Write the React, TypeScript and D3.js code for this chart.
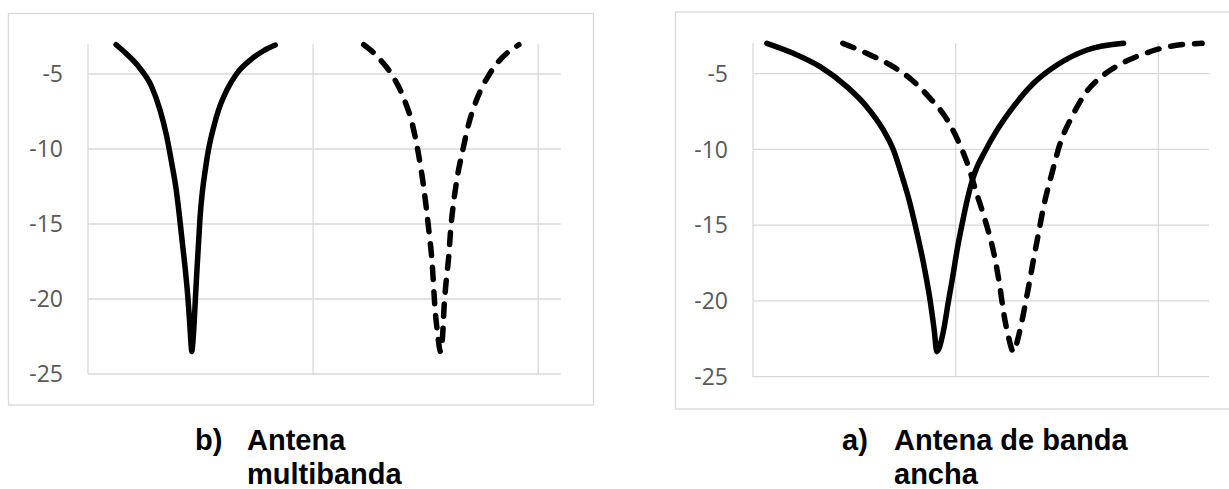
import React from "react";
import * as d3 from "d3";

// ---- data ----
const yTicks = [-5, -10, -15, -20, -25];
const xGridLeft = [0, 1, 2];
const xGridRight = [0, 1, 2];

// b) Antena multibanda
const leftSolidX = [0.125, 0.168, 0.225, 0.283, 0.32, 0.35, 0.372, 0.392, 0.4065, 0.4195, 0.4325, 0.4435, 0.452, 0.4575, 0.461, 0.4655, 0.4715, 0.4775, 0.484, 0.491, 0.498, 0.509, 0.521, 0.535, 0.555, 0.58, 0.617, 0.662, 0.721, 0.78, 0.832];
const leftSolidY = [-3.05, -3.62, -4.51, -5.85, -7.4, -9.18, -10.95, -12.73, -14.51, -16.29, -18.07, -19.85, -21.62, -22.95, -23.5, -22.95, -21.62, -19.85, -18.07, -16.29, -14.51, -12.73, -11.4, -10.07, -8.73, -7.4, -6.07, -4.95, -4.07, -3.45, -3.07];

const leftDashX = [1.225, 1.27, 1.307, 1.351, 1.403, 1.44, 1.465, 1.492, 1.514, 1.529, 1.541, 1.553, 1.566, 1.576, 1.582, 1.592, 1.603, 1.611, 1.624, 1.641, 1.665, 1.692, 1.729, 1.781, 1.822, 1.862, 1.914];
const leftDashY = [-3.05, -3.6, -4.2, -5.07, -6.62, -8.29, -10.07, -12.62, -15.4, -17.62, -20.5, -22.3, -23.5, -22.3, -20.5, -18.7, -17.1, -15.4, -13.6, -11.85, -10.07, -8.29, -6.62, -5.07, -4.2, -3.6, -3.05];

// a) Antena de banda ancha
const rightSolidX = [0.068, 0.199, 0.331, 0.463, 0.561, 0.643, 0.691, 0.741, 0.77, 0.8, 0.841, 0.874, 0.894, 0.907, 0.938, 0.965, 0.983, 1.01, 1.031, 1.057, 1.085, 1.151, 1.195, 1.285, 1.384, 1.5, 1.648, 1.829];
const rightSolidY = [-3, -3.66, -4.54, -5.86, -7.18, -8.72, -9.97, -12.01, -13.33, -14.98, -17.5, -19.97, -21.9, -23.35, -22.1, -19.97, -18.6, -16.41, -14.98, -13.33, -11.9, -9.97, -8.93, -7.18, -5.64, -4.43, -3.44, -3];

const rightDashX = [0.443, 0.561, 0.677, 0.784, 0.874, 0.953, 1.014, 1.063, 1.103, 1.145, 1.195, 1.218, 1.237, 1.26, 1.285, 1.31, 1.335, 1.36, 1.384, 1.409, 1.434, 1.475, 1.516, 1.574, 1.64, 1.73, 1.821, 1.936, 2.051, 2.216];
const rightDashY = [-3, -3.66, -4.43, -5.42, -6.63, -7.94, -9.49, -11.13, -12.89, -14.65, -17.28, -19.05, -20.8, -22.34, -23.35, -22.34, -20.8, -19.05, -17.28, -15.52, -13.77, -11.57, -9.59, -7.84, -6.3, -5.09, -4.32, -3.66, -3.22, -3];

const leftTitle = ["b)", "Antena", "multibanda"];
const rightTitle = ["a)", "Antena de banda", "ancha"];

type Series = { xs: number[]; ys: number[]; dashed: boolean };

type PanelProps = {
  box: { x0: number; y0: number; x1: number; y1: number };
  plot: { left: number; right: number; top: number; bottom: number };
  xMax: number;
  xGrid: number[];
  series: Series[];
  title: string[];
  titleX: number;
};

const GRID = "#d9d9d9";

function Panel({ box, plot, xMax, xGrid, series, title, titleX }: PanelProps) {
  const x = d3.scaleLinear().domain([0, xMax]).range([plot.left, plot.right]);
  const y = d3.scaleLinear().domain([-3, -25]).range([plot.top, plot.bottom]);
  const line = d3
    .line<[number, number]>()
    .x((d) => x(d[0]))
    .y((d) => y(d[1]))
    .curve(d3.curveMonotoneX);
  return (
    <g>
      <rect
        x={box.x0}
        y={box.y0}
        width={box.x1 - box.x0}
        height={box.y1 - box.y0}
        fill="#fff"
        stroke={GRID}
        strokeWidth={1.3}
      />
      {yTicks.map((t) => (
        <line key={"h" + t} x1={plot.left} x2={plot.right} y1={y(t)} y2={y(t)} stroke={GRID} strokeWidth={1.3} />
      ))}
      {xGrid.map((t) => (
        <line key={"v" + t} x1={x(t)} x2={x(t)} y1={y(-3)} y2={y(-25)} stroke={GRID} strokeWidth={1.3} />
      ))}
      {yTicks.map((t) => (
        <text
          key={"l" + t}
          x={plot.left - 25}
          y={y(t)}
          dy="0.36em"
          textAnchor="end"
          fontFamily="'Open Sans', sans-serif"
          fontSize={23}
          fill="#595959"
        >
          {t}
        </text>
      ))}
      {series.map((s, i) => (
        <path
          key={i}
          d={line(s.xs.map((v, j) => [v, s.ys[j]] as [number, number])) || ""}
          fill="none"
          stroke="#000"
          strokeWidth={5.5}
          strokeLinecap="round"
          strokeLinejoin="round"
          strokeDasharray={s.dashed ? "12 12" : undefined}
        />
      ))}
      <g fontFamily="'Liberation Sans', Arial, sans-serif" fontWeight="bold" fontSize={29} fill="#000">
        <text x={titleX} y={450}>{title[0]}</text>
        <text x={titleX + 52} y={450}>{title[1]}</text>
        <text x={titleX + 52} y={484}>{title[2]}</text>
      </g>
    </g>
  );
}

export default function App() {
  return (
    <svg
      width={1229}
      height={489}
      style={{ position: "absolute", left: 0, top: 0, background: "#fff" }}
    >
      <rect x={0} y={0} width={1229} height={489} fill="#fff" />
      <Panel
        box={{ x0: 8.5, y0: 13.5, x1: 593.5, y1: 405 }}
        plot={{ left: 88, right: 560.7, top: 44, bottom: 374 }}
        xMax={2.1}
        xGrid={xGridLeft}
        series={[
          { xs: leftSolidX, ys: leftSolidY, dashed: false },
          { xs: leftDashX, ys: leftDashY, dashed: true },
        ]}
        title={leftTitle}
        titleX={195}
      />
      <Panel
        box={{ x0: 675.5, y0: 12, x1: 1235, y1: 409 }}
        plot={{ left: 753, right: 1209, top: 43.3, bottom: 376.7 }}
        xMax={2.25}
        xGrid={xGridRight}
        series={[
          { xs: rightSolidX, ys: rightSolidY, dashed: false },
          { xs: rightDashX, ys: rightDashY, dashed: true },
        ]}
        title={rightTitle}
        titleX={842}
      />
    </svg>
  );
}
